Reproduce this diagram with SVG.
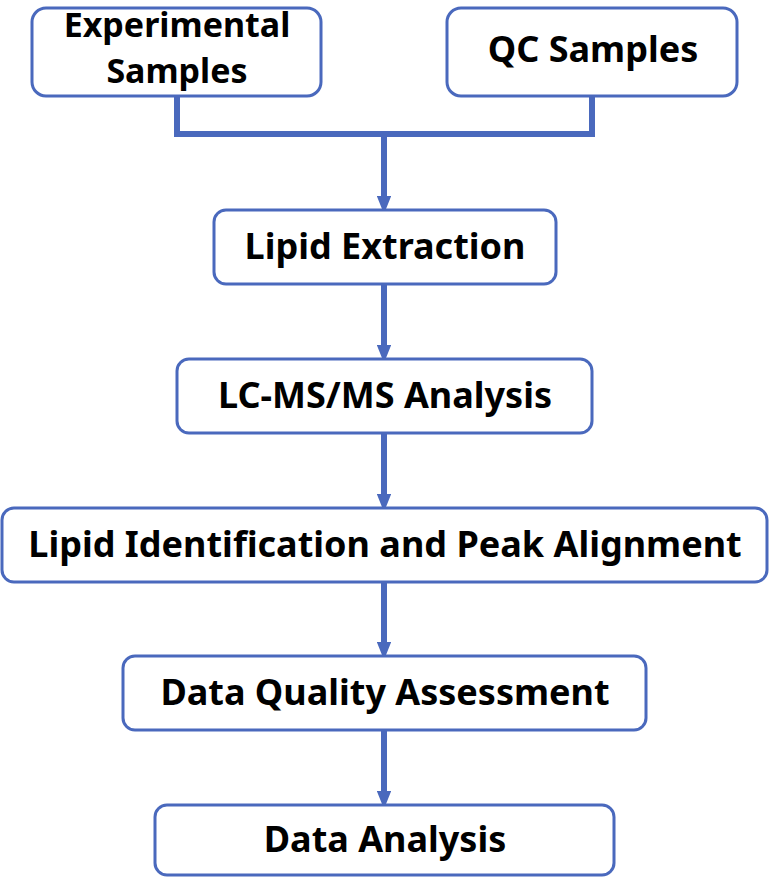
<svg xmlns="http://www.w3.org/2000/svg" width="770" height="878" viewBox="0 0 770 878">
<style>
.b{fill:#fff;stroke:#4a69bd;stroke-width:3}
.t{font-family:"Noto Sans","Open Sans",sans-serif;font-weight:bold;font-size:36px;fill:#000;text-anchor:middle}
.s{font-size:34px}
.c{fill:none;stroke:#4a69bd;stroke-width:6}
</style>
<defs><marker id="a" markerWidth="3" markerHeight="2.4" refX="1.5" refY="1.2" orient="auto" markerUnits="strokeWidth"><path d="M0,0L3,1.2L0,2.4z" fill="#4a69bd"/></marker></defs>
<rect width="770" height="878" fill="#fff"/>
<g id="connectors">
<path class="c" d="M177,96V134H592V96"/>
<path class="c" d="M384,134V205" marker-end="url(#a)"/>
<path class="c" d="M384,284V354" marker-end="url(#a)"/>
<path class="c" d="M384,433V503" marker-end="url(#a)"/>
<path class="c" d="M384,582V651" marker-end="url(#a)"/>
<path class="c" d="M384,730V800" marker-end="url(#a)"/>
</g>
<g id="n1"><rect class="b" x="32" y="8" width="289" height="88" rx="14"/><text class="t s" x="177" y="37">Experimental</text><text class="t s" x="177" y="83">Samples</text></g>
<g id="n2"><rect class="b" x="447" y="8" width="290" height="88" rx="14"/><text class="t" x="593" y="62">QC Samples</text></g>
<g id="n3"><rect class="b" x="214" y="210" width="342" height="74" rx="12"/><text class="t" x="385" y="259">Lipid Extraction</text></g>
<g id="n4"><rect class="b" x="177" y="359" width="415" height="74" rx="12"/><text class="t" x="385" y="408">LC-MS/MS Analysis</text></g>
<g id="n5"><rect class="b" x="2" y="508" width="765" height="74" rx="12"/><text class="t" x="385" y="557">Lipid Identification and Peak Alignment</text></g>
<g id="n6"><rect class="b" x="123" y="656" width="523" height="74" rx="12"/><text class="t" x="385" y="705">Data Quality Assessment</text></g>
<g id="n7"><rect class="b" x="155" y="805" width="459" height="70" rx="12"/><text class="t" x="385" y="852">Data Analysis</text></g>
</svg>
